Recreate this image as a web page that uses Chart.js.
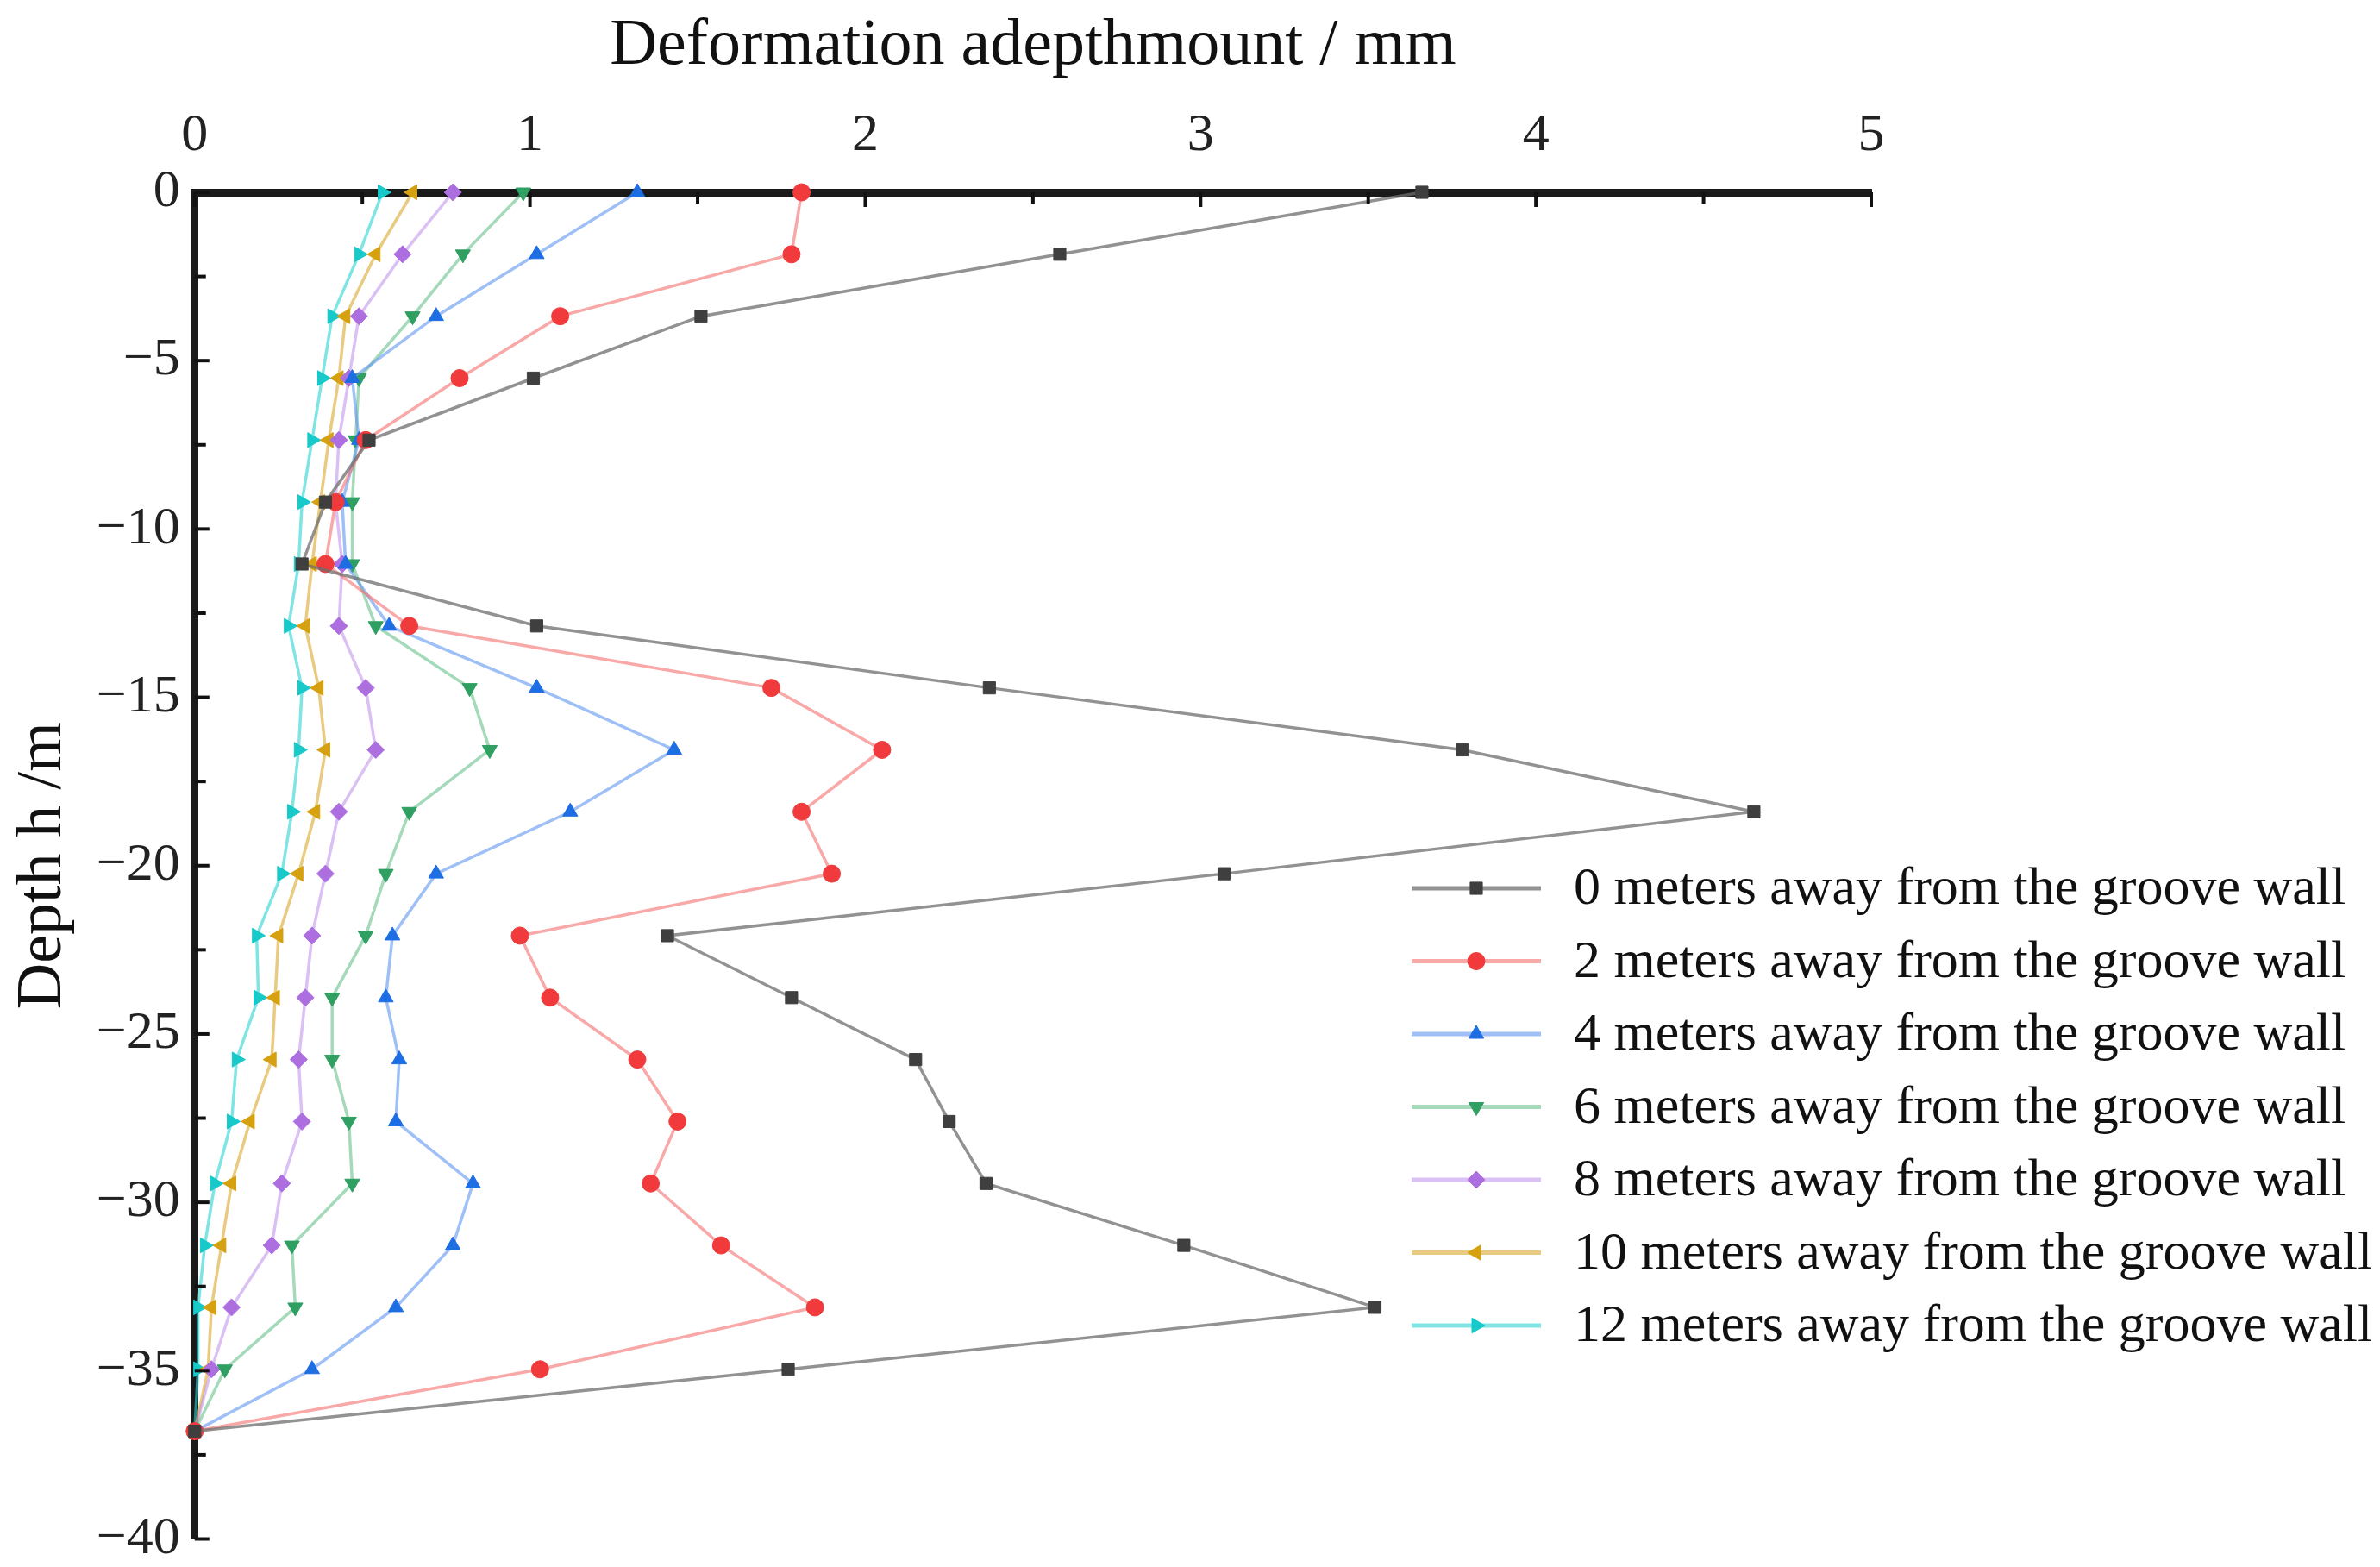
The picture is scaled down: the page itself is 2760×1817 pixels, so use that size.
<!DOCTYPE html>
<html>
<head>
<meta charset="utf-8">
<title>Deformation vs depth</title>
<script src="https://cdn.jsdelivr.net/npm/chart.js@4.4.0/dist/chart.umd.min.js"></script>
<style>
  body { margin: 0; background: #ffffff; }
  canvas { display: block; }
</style>
</head>
<body>
<canvas id="myChart" width="2760" height="1817"></canvas>
<script>
// depth of each measuring point (m)
var depths = [0, -1.84, -3.68, -5.52, -7.36, -9.2, -11.04, -12.88, -14.72, -16.56, -18.4,
    -20.24, -22.08, -23.92, -25.76, -27.6, -29.44, -31.28, -33.12, -34.96, -36.8];

// deformation (mm) for each distance from the groove wall
var wall0 = [3.66, 2.58, 1.51, 1.01, 0.52, 0.39, 0.32, 1.02, 2.37, 3.78, 4.65,
    3.07, 1.41, 1.78, 2.15, 2.25, 2.36, 2.95, 3.52, 1.77, 0];
var wall2 = [1.81, 1.78, 1.09, 0.79, 0.51, 0.42, 0.39, 0.64, 1.72, 2.05, 1.81,
    1.90, 0.97, 1.06, 1.32, 1.44, 1.36, 1.57, 1.85, 1.03, 0];
var wall4 = [1.32, 1.02, 0.72, 0.47, 0.49, 0.44, 0.45, 0.58, 1.02, 1.43, 1.12,
    0.72, 0.59, 0.57, 0.61, 0.60, 0.83, 0.77, 0.60, 0.35, 0];
var wall6 = [0.98, 0.80, 0.65, 0.49, 0.48, 0.47, 0.47, 0.54, 0.82, 0.88, 0.64,
    0.57, 0.51, 0.41, 0.41, 0.46, 0.47, 0.29, 0.30, 0.09, 0];
var wall8 = [0.77, 0.62, 0.49, 0.46, 0.43, 0.42, 0.44, 0.43, 0.51, 0.54, 0.43,
    0.39, 0.35, 0.33, 0.31, 0.32, 0.26, 0.23, 0.11, 0.05, 0];
var wall10 = [0.65, 0.54, 0.45, 0.43, 0.40, 0.375, 0.35, 0.33, 0.37, 0.39, 0.36,
    0.31, 0.25, 0.24, 0.23, 0.165, 0.11, 0.08, 0.05, 0.04, 0];
var wall12 = [0.56, 0.49, 0.41, 0.38, 0.35, 0.32, 0.31, 0.28, 0.32, 0.31, 0.29,
    0.26, 0.185, 0.19, 0.125, 0.11, 0.06, 0.03, 0.01, 0.01, 0];

var seriesLabels = [
    "0 meters away from the groove wall",
    "2 meters away from the groove wall",
    "4 meters away from the groove wall",
    "6 meters away from the groove wall",
    "8 meters away from the groove wall",
    "10 meters away from the groove wall",
    "12 meters away from the groove wall"
];

// tick labels
var xTicks = [0, 1, 2, 3, 4, 5];
var yTicks = [0, -5, -10, -15, -20, -25, -30, -35, -40];

// marker colour, line colour, marker shape, rotation
var markColors = ["#3f3f3f", "#f03a3c", "#1e6ee3", "#2f9f62", "#ad6fe0", "#d6a111", "#17c9c9"];
var lineColors = ["rgba(110,110,110,0.75)", "rgba(245,110,110,0.6)", "rgba(95,150,240,0.6)",
    "rgba(90,185,130,0.55)", "rgba(190,140,235,0.55)", "rgba(220,175,60,0.65)", "rgba(40,210,210,0.6)"];
var shapes = ["rect", "circle", "triangle", "triangle", "rectRot", "triangle", "triangle"];
var rotations = [0, 0, 0, 180, 0, 270, 90];

var FONT = "'Liberation Serif', 'Times New Roman', serif";

function makePoints(values) {
    var pts = [];
    for (var i = 0; i < values.length; i++) {
        pts.push({ x: values[i], y: depths[i] });
    }
    return pts;
}

var allSeries = [wall0, wall2, wall4, wall6, wall8, wall10, wall12];
var datasets = [];
for (var s = 0; s < allSeries.length; s++) {
    datasets.push({
        label: seriesLabels[s],
        data: makePoints(allSeries[s]),
        showLine: true,
        borderColor: lineColors[s],
        borderWidth: 3.5,
        pointStyle: shapes[s],
        pointRotation: rotations[s],
        pointRadius: 10,
        pointBackgroundColor: markColors[s],
        pointBorderColor: markColors[s],
        pointBorderWidth: 1,
        clip: false
    });
}

// inward tick marks (major + minor) on the top and left axes
var innerTicks = {
    id: "innerTicks",
    afterDatasetsDraw: function (chart) {
        var ctx = chart.ctx;
        var area = chart.chartArea;
        var xs = chart.scales.x;
        var ys = chart.scales.y;
        ctx.save();
        ctx.strokeStyle = "#111";
        ctx.lineWidth = 4;
        for (var v = 0; v <= 5.001; v += 0.5) {
            var px = xs.getPixelForValue(v);
            var len = (Math.abs(v - Math.round(v)) < 0.01) ? 17 : 13;
            ctx.beginPath();
            ctx.moveTo(px, area.top);
            ctx.lineTo(px, area.top + len);
            ctx.stroke();
        }
        for (var d = 0; d >= -40.001; d -= 2.5) {
            var py = ys.getPixelForValue(d);
            var len2 = (Math.abs(d % 5) < 0.01) ? 17 : 13;
            ctx.beginPath();
            ctx.moveTo(area.left, py);
            ctx.lineTo(area.left + len2, py);
            ctx.stroke();
        }
        ctx.restore();
    }
};

// legend drawn on the right, line sample with its marker
var sideLegend = {
    id: "sideLegend",
    afterDraw: function (chart) {
        var ctx = chart.ctx;
        var x0 = 1637, x1 = 1787, tx = 1825;
        var y0 = 1030, step = 84.5;
        ctx.save();
        ctx.font = "62px " + FONT;
        ctx.textBaseline = "middle";
        for (var i = 0; i < chart.data.datasets.length; i++) {
            var ds = chart.data.datasets[i];
            var y = y0 + i * step;
            ctx.strokeStyle = ds.borderColor;
            ctx.lineWidth = 5;
            ctx.beginPath();
            ctx.moveTo(x0, y);
            ctx.lineTo(x1, y);
            ctx.stroke();
            ctx.fillStyle = ds.pointBackgroundColor;
            ctx.strokeStyle = ds.pointBorderColor;
            ctx.lineWidth = 1;
            if (Chart.helpers && Chart.helpers.drawPoint) {
                Chart.helpers.drawPoint(ctx, {
                    pointStyle: ds.pointStyle,
                    rotation: ds.pointRotation,
                    radius: 10,
                    borderWidth: 1
                }, (x0 + x1) / 2, y);
            }
            ctx.fillStyle = "#111";
            ctx.fillText(ds.label, tx, y + 2);
        }
        ctx.restore();
    }
};

var ctx = document.getElementById("myChart").getContext("2d");
var myChart = new Chart(ctx, {
    type: "scatter",
    data: { datasets: datasets },
    options: {
        responsive: false,
        animation: false,
        devicePixelRatio: 1,
        layout: { padding: { left: 6, top: 16, right: 590, bottom: 0 } },
        plugins: {
            legend: { display: false },
            tooltip: { enabled: false }
        },
        scales: {
            x: {
                type: "linear",
                position: "top",
                min: 0,
                max: 5,
                afterBuildTicks: function (scale) {
                    scale.ticks = xTicks.map(function (v) { return { value: v }; });
                },
                grid: { display: false, drawTicks: false },
                border: { display: true, color: "#1a1a1a", width: 9 },
                ticks: {
                    padding: 34,
                    color: "#222",
                    font: { family: FONT, size: 62, lineHeight: 1 },
                    maxRotation: 0
                },
                title: {
                    display: true,
                    text: "Deformation adepthmount / mm",
                    color: "#111",
                    font: { family: FONT, size: 76, lineHeight: 1 },
                    padding: { top: 0, bottom: 1 }
                }
            },
            y: {
                type: "linear",
                min: -40,
                max: 0,
                afterBuildTicks: function (scale) {
                    scale.ticks = yTicks.map(function (v) { return { value: v }; });
                },
                grid: { display: false, drawTicks: false },
                border: { display: true, color: "#1a1a1a", width: 9 },
                ticks: {
                    padding: 17,
                    color: "#222",
                    font: { family: FONT, size: 62, lineHeight: 0.5 },
                    callback: function (value) {
                        return String(value).replace("-", "\u2212");
                    }
                },
                title: {
                    display: true,
                    text: "Depth h /m",
                    color: "#111",
                    font: { family: FONT, size: 74 },
                    padding: { top: 0, bottom: 0 }
                }
            }
        }
    },
    plugins: [innerTicks, sideLegend]
});
</script>
</body>
</html>
